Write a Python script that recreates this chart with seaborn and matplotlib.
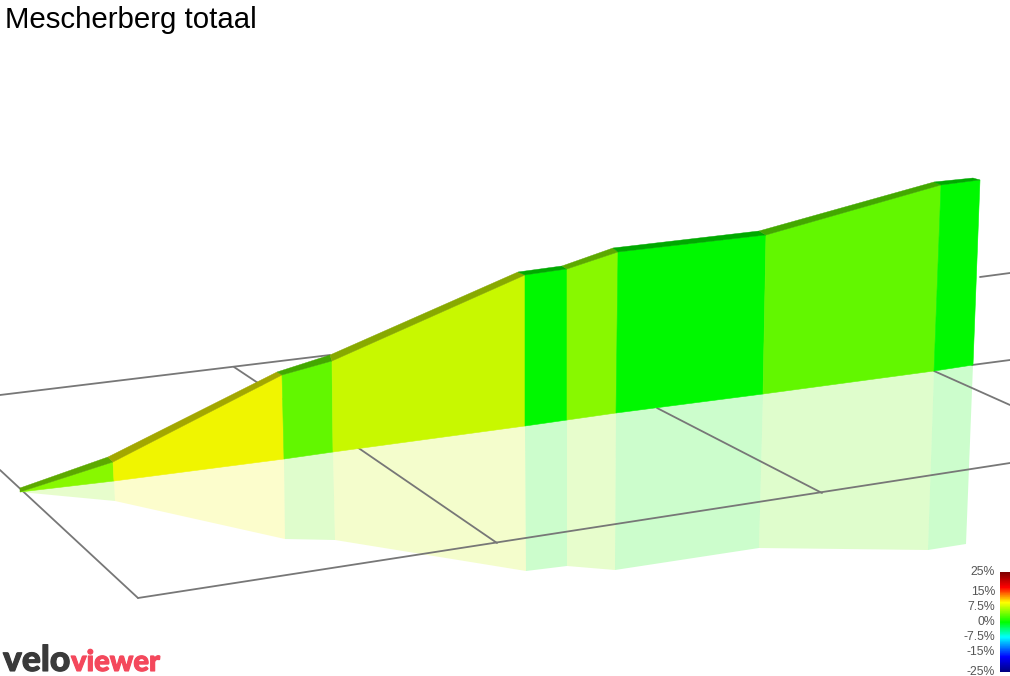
import numpy as np
import pandas as pd
import matplotlib
matplotlib.use("Agg")
import matplotlib.pyplot as plt
import matplotlib.patheffects as pe
from matplotlib.colors import LinearSegmentedColormap, to_rgb
import seaborn as sns

title = "Mescherberg totaal"

# Wall outline (screen units)
base_x = [20, 114, 284, 333, 525, 567, 616, 763, 934, 973]
base_y = [492, 481, 459, 452, 426, 420, 413, 394, 371, 365]
top_x = [20, 113, 282, 332, 525, 567, 618, 766, 941, 980]
top_y = [492, 462, 375, 361, 275, 269, 252, 235, 185, 180]
back_x = [20, 108, 277, 330, 518, 562, 613, 759, 934, 973]
back_y = [488, 457, 372, 355, 272, 266, 248, 231, 182, 178]
refl_x = [20, 115, 285, 335, 526, 567, 615, 759, 928, 966]
refl_y = [492, 501, 539, 540, 571, 566, 570, 548, 550, 544]
segment_colors = ["#88f800", "#f0f500", "#62f700", "#c8f800", "#00f800",
                  "#88f800", "#00f800", "#62f700", "#00f800"]

# Ground grid lines
grid_x = [[0, 330], [980, 1010], [972, 1010], [138, 1010], [0, 138],
          [234, 282], [357, 497], [657, 822], [934, 1010]]
grid_y = [[395, 355], [277, 273], [365, 360], [598, 463], [470, 598],
          [367, 399], [447, 543], [408, 493], [371, 405]]

# Gradient legend
legend_labels = ["25%", "15%", "7.5%", "0%", "-7.5%", "-15%", "-25%"]
legend_y = [572, 592, 607, 622, 637, 652, 672]
legend_stops = ["#800000", "#ff0000", "#ffff00", "#00ff00", "#00ffff", "#0000ff", "#000080"]
legend_pos = [0.0, 0.15, 0.30, 0.50, 0.65, 0.85, 1.0]

sns.set_theme(style="white")
plt.rcParams["font.family"] = ["Liberation Sans", "DejaVu Sans"]

fig = plt.figure(figsize=(10.1, 6.76), dpi=100)
ax = fig.add_axes([0, 0, 1, 1])
ax.set_xlim(0, 1010)
ax.set_ylim(676, 0)
ax.axis("off")

for i, (gx, gy) in enumerate(zip(grid_x, grid_y)):
    d = pd.DataFrame({"x": gx, "y": gy})
    sns.lineplot(data=d, x="x", y="y", sort=False, estimator=None, ax=ax,
                 color="#777777", lw=1.3, zorder=2.5)
ax.set_xlim(0, 1010)
ax.set_ylim(676, 0)
ax.set_xlabel("")
ax.set_ylabel("")

def darker(c, f=0.68):
    return tuple(v * f for v in to_rgb(c))

for i, c in enumerate(segment_colors):
    # reflection
    ax.fill([base_x[i], base_x[i + 1], refl_x[i + 1], refl_x[i]],
            [base_y[i], base_y[i + 1], refl_y[i + 1], refl_y[i]],
            color=c, alpha=0.2, lw=0, zorder=2)
    # wall
    ax.fill([base_x[i], base_x[i + 1], top_x[i + 1], top_x[i]],
            [base_y[i], base_y[i + 1], top_y[i + 1], top_y[i]],
            color=c, lw=0.4, zorder=3)
    # top surface
    ax.fill([back_x[i], back_x[i + 1], top_x[i + 1], top_x[i]],
            [back_y[i], back_y[i + 1], top_y[i + 1], top_y[i]],
            color=darker(c), lw=0.3, zorder=4)

ax.text(5, 28, title, fontsize=21.2, color="black", ha="left", va="baseline")

for lab, y in zip(legend_labels, legend_y):
    ax.text(995, y, lab, fontsize=8.8, color="#555555", ha="right", va="center")

cax = fig.add_axes([1000 / 1010, 1 - 672 / 676, 10 / 1010, 100 / 676])
cmap = LinearSegmentedColormap.from_list("grade", list(zip(legend_pos, legend_stops)))
sns.heatmap(np.linspace(0, 1, 200).reshape(-1, 1), ax=cax, cmap=cmap, vmin=0, vmax=1,
            cbar=False, xticklabels=False, yticklabels=False)

ax.text(3, 671, "velo", fontsize=25.5, fontweight="black", family="Lato",
        color="#3a3a3a", ha="left", va="baseline",
        path_effects=[pe.withStroke(linewidth=0.8, foreground="#3a3a3a")])
ax.text(71, 671, "viewer", fontsize=21, fontweight="black", family="Lato",
        color="#f4485c", ha="left", va="baseline",
        path_effects=[pe.withStroke(linewidth=0.8, foreground="#f4485c")])

fig.savefig("out.png", dpi=100)
